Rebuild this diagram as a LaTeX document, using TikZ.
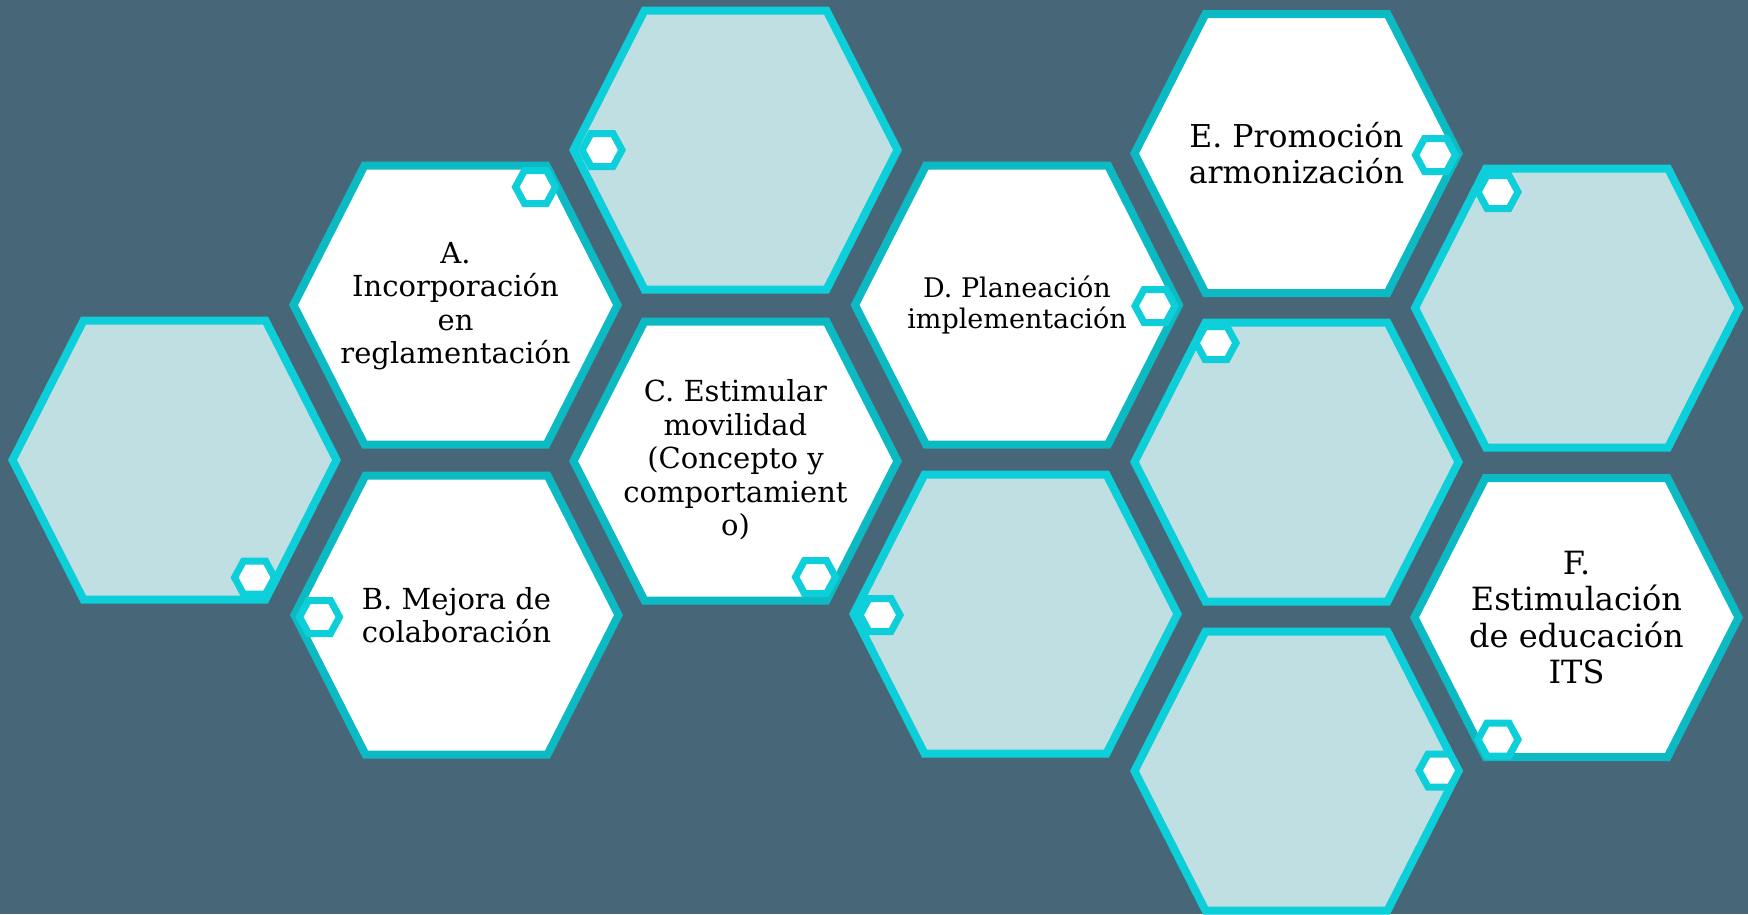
\documentclass[tikz,border=0pt]{standalone}
\usepackage{fontspec}
\setmainfont{DejaVu Serif}
\definecolor{bg}{HTML}{476779}
\definecolor{lightfill}{HTML}{BFDFE3}
\definecolor{cyanline}{HTML}{0DCFDA}
\definecolor{tealline}{HTML}{0BBAC3}
\tikzset{
  hexlight/.style={draw=cyanline, fill=lightfill, line width=8pt},
  hexwhite/.style={draw=tealline, fill=white, line width=8pt},
  hexsmall/.style={draw=cyanline, fill=white, line width=7pt},
  hextext/.style={align=center, text=black, inner sep=0pt},
}
\newcommand\bighex[3]{\path[#3, shift={(#1,#2)}] (-162,0) -- (-91,-139.5) -- (91,-139.5) -- (162,0) -- (91,139.5) -- (-91,139.5) -- cycle;}
\newcommand\smallhex[2]{\path[hexsmall, shift={(#1,#2)}] (-20,0) -- (-11,-16.5) -- (11,-16.5) -- (20,0) -- (11,16.5) -- (-11,16.5) -- cycle;}
\begin{document}
\begin{tikzpicture}[x=1pt,y=-1pt]
\fill[bg] (0,0) rectangle (1748,914);
\useasboundingbox (0,0) rectangle (1748,914);
% big hexagons
\bighex{174.5}{460}{hexlight}
\bighex{455.5}{305}{hexwhite}
\bighex{735.5}{150}{hexlight}
\bighex{456.5}{615}{hexwhite}
\bighex{735.5}{461}{hexwhite}
\bighex{1017}{305}{hexwhite}
\bighex{1015.5}{614}{hexlight}
\bighex{1296.5}{153.5}{hexwhite}
\bighex{1296.5}{462}{hexlight}
\bighex{1296.5}{771}{hexlight}
\bighex{1577}{308}{hexlight}
\bighex{1576.5}{617.5}{hexwhite}
% small decorative hexagons
\smallhex{254.5}{577.5}
\smallhex{535.5}{187}
\smallhex{602}{150}
\smallhex{319.5}{617}
\smallhex{815.5}{577}
\smallhex{1155}{306}
\smallhex{880}{615}
\smallhex{1435.5}{155}
\smallhex{1216}{343}
\smallhex{1439}{770.5}
\smallhex{1498}{192}
\smallhex{1498}{739.5}
% texts
\node[hextext, font=\fontsize{29}{33.5}\selectfont] (tA) at (455.5,306) {A.\\Incorporación\\en\\reglamentación};
\node[hextext, font=\fontsize{29}{33.5}\selectfont] (tB) at (456.5,615) {B. Mejora de\\colaboración};
\node[hextext, font=\fontsize{29}{33.5}\selectfont] (tC) at (735.5,460) {C. Estimular\\movilidad\\(Concepto y\\comportamient\\o)};
\node[hextext, font=\fontsize{27}{31}\selectfont] (tD) at (1017,305) {D. Planeación\\implementación};
\node[hextext, font=\fontsize{31.5}{36}\selectfont] (tE) at (1296.5,153) {E. Promoción\\armonización};
\node[hextext, font=\fontsize{32}{36.5}\selectfont] (tF) at (1576.5,617.5) {F.\\Estimulación\\de educación\\ITS};
\end{tikzpicture}
\end{document}
